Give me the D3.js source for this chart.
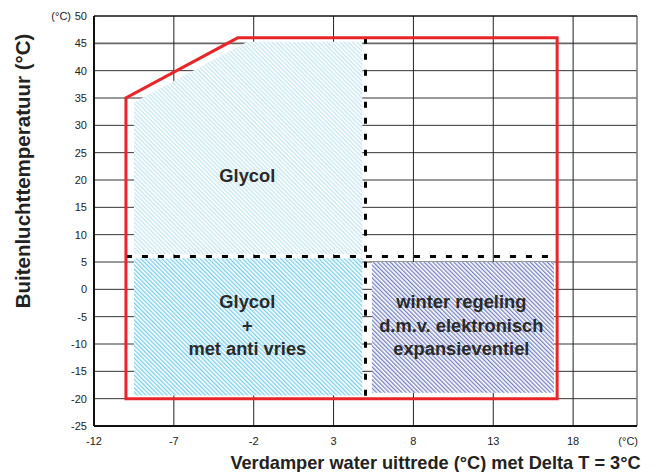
<!DOCTYPE html>
<html>
<head>
<meta charset="utf-8">
<script src="https://cdn.jsdelivr.net/npm/d3@7"></script>
<style>
  body { margin: 0; background: #fff; }
  svg { font-family: "Liberation Sans", Arial, sans-serif; }
  .tick-label { font-size: 11px; fill: #222; }
  .region-label { font-size: 18.3px; font-weight: bold; fill: #2a2a2a; }
  .axis-title { font-weight: bold; fill: #222; }
</style>
</head>
<body>
<svg width="660" height="472"></svg>
<script>
var svg = d3.select("svg");

// ticks
var xTicks = [-12, -7, -2, 3, 8, 13, 18];
var yTicks = [-25, -20, -15, -10, -5, 0, 5, 10, 15, 20, 25, 30, 35, 40, 45, 50];

// operating envelope (red line)
var envelope = [[-10, -20], [-10, 35], [-3, 46], [17, 46], [17, -20]];

// hatched regions
var regionGlycol = [[-9.5, 6.4], [-9.5, 34.2], [-2.4, 45.3], [4.8, 45.3], [4.8, 6.4]];
var regionAntiFreeze = [[-9.5, -19.4], [-9.5, 5.7], [4.8, 5.7], [4.8, -19.4]];
var regionWinter = [[5.4, -18.9], [5.4, 5.0], [16.8, 5.0], [16.8, -18.9]];

// dashed separators
var dashH = [[-10, 6], [16.6, 6]];
var dashV = [[5, 46], [5, -20]];

// labels
var labelGlycol = ["Glycol"];
var labelAntiFreeze = ["Glycol", "+", "met anti vries"];
var labelWinter = ["winter regeling", "d.m.v. elektronisch", "expansieventiel"];

var x = d3.scaleLinear().domain([-12, 22]).range([94, 637]);
var y = d3.scaleLinear().domain([-25, 50]).range([426, 16]);

var line = d3.line().x(d => x(d[0])).y(d => y(d[1]));

// hatch patterns
var defs = svg.append("defs");
function hatch(id, color, w) {
    var p = defs.append("pattern")
        .attr("id", id)
        .attr("patternUnits", "userSpaceOnUse")
        .attr("width", 3).attr("height", 3)
        .attr("patternTransform", "rotate(-45)");
    p.append("rect").attr("width", 3).attr("height", 3).attr("fill", "#fff");
    p.append("rect").attr("width", w).attr("height", 3).attr("fill", color);
}
hatch("h-pale", "#c4e6f1", 1.3);
hatch("h-blue", "#78cff0", 1.3);
hatch("h-purple", "#7482c6", 1.3);

// grid
var grid = svg.append("g");
grid.selectAll(".hg")
    .data(yTicks.filter(d => d > -25 && d < 50))
    .enter().append("line")
    .attr("x1", x(-12)).attr("x2", x(22))
    .attr("y1", d => y(d)).attr("y2", d => y(d))
    .attr("stroke", d => d == 45 ? "#666" : "#333")
    .attr("stroke-width", d => d == 45 ? 1.6 : 1);
grid.selectAll(".vg")
    .data(xTicks.filter(d => d > -12))
    .enter().append("line")
    .attr("x1", d => x(d)).attr("x2", d => x(d))
    .attr("y1", y(-25)).attr("y2", y(50))
    .attr("stroke", "#222")
    .attr("stroke-width", 1);

// frame
svg.append("line").attr("x1", x(22)).attr("x2", x(22)).attr("y1", y(-25)).attr("y2", y(50))
    .attr("stroke", "#777").attr("stroke-width", 1.5);
svg.append("line").attr("x1", x(-12)).attr("x2", x(22)).attr("y1", y(50)).attr("y2", y(50))
    .attr("stroke", "#111").attr("stroke-width", 1.3);
svg.append("line").attr("x1", x(-12)).attr("x2", x(22)).attr("y1", y(-25)).attr("y2", y(-25))
    .attr("stroke", "#111").attr("stroke-width", 2);
svg.append("line").attr("x1", x(-12)).attr("x2", x(-12)).attr("y1", y(-25)).attr("y2", y(50))
    .attr("stroke", "#111").attr("stroke-width", 2);

// regions
svg.append("path").attr("d", line(regionGlycol) + "Z").attr("fill", "url(#h-pale)");
svg.append("path").attr("d", line(regionAntiFreeze) + "Z").attr("fill", "url(#h-blue)");
svg.append("path").attr("d", line(regionWinter) + "Z").attr("fill", "url(#h-purple)");

// dashed separators
[dashH, dashV].forEach(function(seg) {
    svg.append("path")
        .attr("d", line(seg))
        .attr("fill", "none")
        .attr("stroke", "#000")
        .attr("stroke-width", 3)
        .attr("stroke-dasharray", "6,10");
});

// envelope
svg.append("path")
    .attr("d", line(envelope) + "Z")
    .attr("fill", "none")
    .attr("stroke", "#e8262a")
    .attr("stroke-width", 3);

// tick labels
svg.selectAll(".xt")
    .data(xTicks)
    .enter().append("text")
    .attr("class", "tick-label")
    .attr("x", d => x(d))
    .attr("y", 445)
    .attr("text-anchor", "middle")
    .text(d => d);
svg.selectAll(".yt")
    .data(yTicks)
    .enter().append("text")
    .attr("class", "tick-label")
    .attr("x", 87)
    .attr("y", d => y(d) + 4)
    .attr("text-anchor", "end")
    .text(d => d);
svg.append("text").attr("class", "tick-label").attr("x", 71).attr("y", 20)
    .attr("text-anchor", "end").text("(°C)");
svg.append("text").attr("class", "tick-label").attr("x", 638).attr("y", 445)
    .attr("text-anchor", "end").text("(°C)");

// region labels
function block(lines, cx, cy) {
    svg.append("g").selectAll("text")
        .data(lines)
        .enter().append("text")
        .attr("class", "region-label")
        .attr("x", cx)
        .attr("y", (d, i) => cy + (i - (lines.length - 1) / 2) * 23.5 + 6)
        .attr("text-anchor", "middle")
        .text(d => d);
}
block(labelGlycol, x(-2.4), y(20.7));
block(labelAntiFreeze, x(-2.4), y(-6.7));
block(labelWinter, x(11.0), y(-6.7));

// axis titles
svg.append("text")
    .attr("class", "axis-title")
    .attr("transform", "translate(30,171) rotate(-90)")
    .attr("text-anchor", "middle")
    .style("font-size", "20.5px")
    .text("Buitenluchttemperatuur (°C)");
svg.append("text")
    .attr("class", "axis-title")
    .attr("x", 435.5)
    .attr("y", 469)
    .attr("text-anchor", "middle")
    .style("font-size", "18.2px")
    .text("Verdamper water uittrede (°C) met Delta T = 3°C");
</script>
</body>
</html>
